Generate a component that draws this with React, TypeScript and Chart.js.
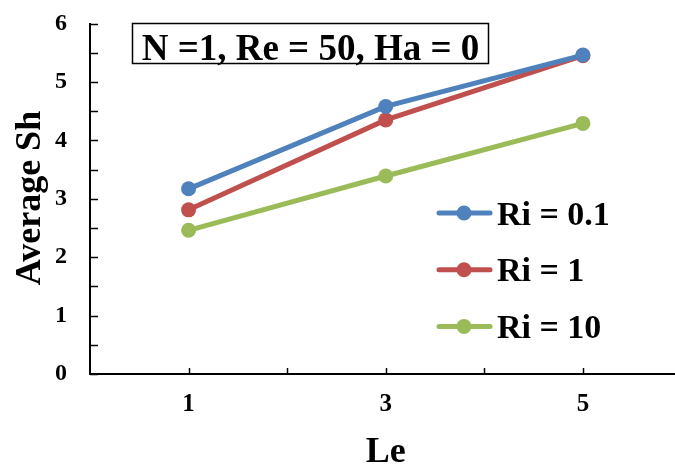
import React, { useEffect, useRef } from "react";
import { Chart, registerables } from "chart.js";

Chart.register(...registerables);

const leValues = [1, 3, 5];
const seriesLabels = ["Ri = 0.1", "Ri = 1", "Ri = 10"];
const ri01 = [3.17, 4.58, 5.46];
const ri1 = [2.81, 4.35, 5.45];
const ri10 = [2.46, 3.39, 4.29];
const seriesColors = ["#4F81BD", "#C0504D", "#9BBB59"];
const xTickLabels = [1, 3, 5];
const yTickLabels = [0, 1, 2, 3, 4, 5, 6];
const annotationText = "N =1, Re = 50, Ha = 0";
const xTitle = "Le";
const yTitle = "Average Sh";

const FONT = '"Liberation Serif", "Times New Roman", serif';

const overlayPlugin = {
  id: "overlay",
  afterDatasetsDraw(chart: any) {
    const ctx = chart.ctx as CanvasRenderingContext2D;
    const xs = chart.scales.x;
    const ys = chart.scales.y;
    const area = chart.chartArea;
    ctx.save();
    // inward tick marks
    ctx.strokeStyle = "#000";
    ctx.lineWidth = 1.5;
    for (let v = 0; v <= 6.001; v += 0.5) {
      const y = Math.round(ys.getPixelForValue(v)) + 0.5;
      ctx.beginPath();
      ctx.moveTo(area.left, y);
      ctx.lineTo(area.left + 8, y);
      ctx.stroke();
    }
    for (let v = 1; v <= 6; v += 1) {
      const x = Math.round(xs.getPixelForValue(v)) + 0.5;
      ctx.beginPath();
      ctx.moveTo(x, area.bottom);
      ctx.lineTo(x, area.bottom - 6);
      ctx.stroke();
    }
    // axis titles
    ctx.fillStyle = "#000";
    ctx.font = `bold 36px ${FONT}`;
    ctx.textAlign = "center";
    ctx.textBaseline = "alphabetic";
    ctx.fillText(xTitle, xs.getPixelForValue(3), 462);
    ctx.save();
    ctx.translate(40, 198);
    ctx.rotate(-Math.PI / 2);
    ctx.fillText(yTitle, 0, 0);
    ctx.restore();
    // annotation box
    ctx.lineWidth = 1.5;
    ctx.strokeRect(132.5, 23.5, 356, 40);
    ctx.font = `bold 37px ${FONT}`;
    ctx.fillText(annotationText, 310.5, 60);
    // legend
    chart.data.datasets.forEach((ds: any, i: number) => {
      const ly = 213 + i * 56.7;
      ctx.strokeStyle = ds.borderColor;
      ctx.lineWidth = 5;
      ctx.lineCap = "round";
      ctx.beginPath();
      ctx.moveTo(439, ly);
      ctx.lineTo(490, ly);
      ctx.stroke();
      ctx.fillStyle = ds.borderColor;
      ctx.beginPath();
      ctx.arc(464, ly, 7.5, 0, Math.PI * 2);
      ctx.fill();
      ctx.fillStyle = "#000";
      ctx.font = `bold 34px ${FONT}`;
      ctx.textAlign = "left";
      ctx.fillText(ds.label, 497, ly + 11.5);
    });
    ctx.restore();
  },
};

const zeroPad = (s: any) => {
  s.paddingTop = 0;
  s.paddingBottom = 0;
  s.paddingLeft = 0;
  s.paddingRight = 0;
};

export default function App() {
  const ref = useRef<HTMLCanvasElement | null>(null);
  useEffect(() => {
    if (!ref.current) return;
    const seriesValues = [ri01, ri1, ri10];
    const chart = new Chart(ref.current, {
      type: "line",
      data: {
        datasets: seriesValues.map((vals, i) => ({
          label: seriesLabels[i],
          data: vals.map((v, j) => ({ x: leValues[j], y: v })),
          borderColor: seriesColors[i],
          backgroundColor: seriesColors[i],
          borderWidth: 5,
          pointRadius: 7.5,
          pointBorderWidth: 0,
          pointBackgroundColor: seriesColors[i],
          tension: 0,
          fill: false,
        })),
      },
      options: {
        animation: false,
        responsive: false,
        maintainAspectRatio: false,
        layout: { padding: { top: 23.5, right: 0, bottom: 0, left: 0 } },
        plugins: {
          legend: { display: false },
          tooltip: { enabled: false },
          title: { display: false },
        },
        scales: {
          x: {
            type: "linear",
            min: 0,
            max: 6,
            grid: { display: false, drawTicks: false },
            border: { display: true, color: "#000", width: 2 },
            ticks: {
              stepSize: 1,
              autoSkip: false,
              maxRotation: 0,
              padding: 16,
              color: "#000",
              font: { family: FONT, size: 25, weight: "bold" },
              callback: (v: any) => (xTickLabels.includes(Number(v)) ? String(v) : ""),
            },
            afterFit: (s: any) => {
              s.height = 93;
              zeroPad(s);
            },
          },
          y: {
            type: "linear",
            min: 0,
            max: 6,
            grid: { display: false, drawTicks: false },
            border: { display: true, color: "#000", width: 2 },
            ticks: {
              stepSize: 1,
              padding: 23,
              color: "#000",
              font: { family: FONT, size: 24, weight: "bold" },
              callback: (v: any) => (yTickLabels.includes(Number(v)) ? String(v) : ""),
            },
            afterFit: (s: any) => {
              s.width = 90;
              zeroPad(s);
            },
          },
        },
      },
      plugins: [overlayPlugin],
    } as any);
    return () => chart.destroy();
  }, []);
  return (
    <div
      style={{
        position: "fixed",
        left: 0,
        top: 0,
        width: 675,
        height: 467,
        overflow: "hidden",
        background: "#fff",
      }}
    >
      <canvas ref={ref} width={689} height={467} style={{ display: "block", width: 689, height: 467 }} />
    </div>
  );
}
